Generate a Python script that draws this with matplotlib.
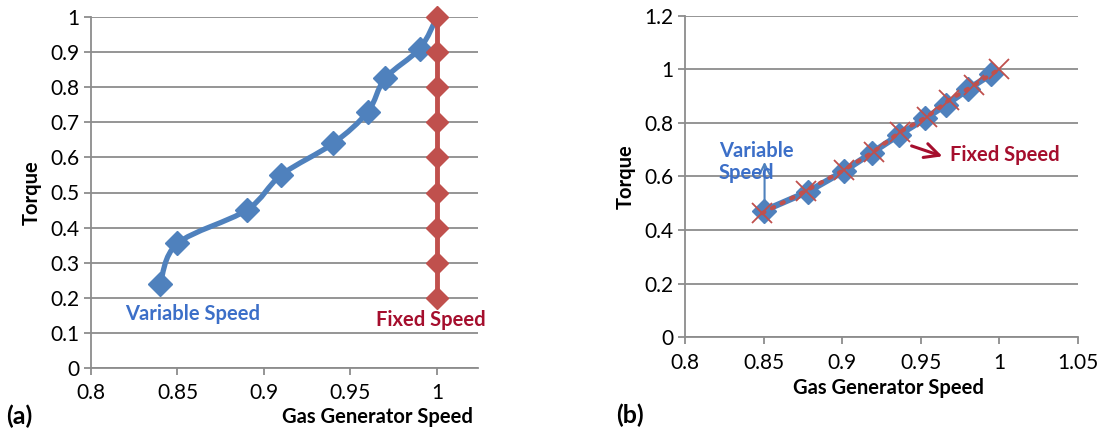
import numpy as np
import matplotlib
matplotlib.use("Agg")
import matplotlib.pyplot as plt
from matplotlib.path import Path
from matplotlib.patches import PathPatch

plt.rcParams['font.family'] = ['Lato', 'DejaVu Sans']

# panel (a)
var_speed_a = [0.84, 0.85, 0.89, 0.91, 0.94, 0.96, 0.97, 0.99, 1.0]
var_torque_a = [0.24, 0.355, 0.45, 0.55, 0.64, 0.73, 0.825, 0.91, 1.0]
fix_speed_a = [1.0] * 9
fix_torque_a = [0.2, 0.3, 0.4, 0.5, 0.6, 0.7, 0.8, 0.9, 1.0]

# panel (b)
var_speed_b = [0.850, 0.878, 0.901, 0.919, 0.936, 0.953, 0.966, 0.980, 0.995]
var_torque_b = [0.472, 0.543, 0.620, 0.689, 0.755, 0.817, 0.867, 0.925, 0.982]
fix_speed_b = [0.849, 0.877, 0.901, 0.920, 0.937, 0.954, 0.968, 0.984, 1.0]
fix_torque_b = [0.463, 0.547, 0.624, 0.693, 0.767, 0.823, 0.885, 0.941, 1.0]

BLUE = '#4F81BD'
RED = '#C0504D'
DARKRED = '#A50E2D'
TXTBLUE = '#3C6FC8'
GRID = '#8C8C8C'

TICK_FS = 15
LABEL_FS = 14.5


def smooth_path(xs, ys, tension=1 / 6):
    # excel-like smoothed line: cubic bezier through every point
    pts = np.column_stack([xs, ys])
    verts = [pts[0]]
    codes = [Path.MOVETO]
    n = len(pts)
    for i in range(n - 1):
        p0 = pts[i - 1] if i > 0 else pts[i]
        p1, p2 = pts[i], pts[i + 1]
        p3 = pts[i + 2] if i + 2 < n else pts[i + 1]
        verts += [p1 + (p2 - p0) * tension, p2 - (p3 - p1) * tension, p2]
        codes += [Path.CURVE4] * 3
    return Path(verts, codes)


def style_axes(ax):
    for s in ['top', 'right']:
        ax.spines[s].set_visible(False)
    for s in ['left', 'bottom']:
        ax.spines[s].set_color(GRID)
        ax.spines[s].set_linewidth(1.3)
    ax.grid(axis='y', color=GRID, linewidth=1.3)
    ax.set_axisbelow(True)
    ax.tick_params(colors=GRID, labelcolor='black', labelsize=TICK_FS, length=5, width=1.3)


fig = plt.figure(figsize=(11.09, 4.33), dpi=100)

# ---- (a)
ax1 = fig.add_axes([91 / 1109, 1 - 368 / 433, (478 - 91) / 1109, (368 - 17) / 433])
style_axes(ax1)
ax1.set_xlim(0.8, 1.0237)
ax1.set_ylim(0, 1)
ax1.set_xticks([0.8, 0.85, 0.9, 0.95, 1.0])
ax1.set_xticklabels(['0.8', '0.85', '0.9', '0.95', '1'])
ax1.set_yticks(np.arange(0, 1.01, 0.1))
ax1.set_yticklabels(['0', '0.1', '0.2', '0.3', '0.4', '0.5', '0.6', '0.7', '0.8', '0.9', '1'])
ax1.tick_params(axis='x', pad=6)
ax1.add_patch(PathPatch(smooth_path(var_speed_a, var_torque_a), fill=False,
                        edgecolor=BLUE, lw=3.8, capstyle='round', joinstyle='round', zorder=3))
ax1.plot(var_speed_a[:-1], var_torque_a[:-1], 'D', color=BLUE, ms=12, zorder=4, clip_on=False)
ax1.plot(fix_speed_a, fix_torque_a, '-D', color=RED, lw=3.5, ms=11, zorder=5, clip_on=False)
ax1.text(0.8195, 0.155, 'Variable Speed', color=TXTBLUE, fontsize=LABEL_FS, fontweight='bold',
         va='center')
ax1.text(0.965, 0.137, 'Fixed Speed', color=DARKRED, fontsize=LABEL_FS, fontweight='bold',
         va='center', clip_on=False)
ax1.set_ylabel('Torque', fontsize=LABEL_FS, fontweight='bold', labelpad=6)
fig.text(377 / 1109, 1 - 417 / 433, 'Gas Generator Speed', fontsize=LABEL_FS, fontweight='bold',
         ha='center', va='center')
fig.text(6 / 1109, 1 - 416 / 433, '(a)', fontsize=18, fontweight='bold', va='center')

# ---- (b)
ax2 = fig.add_axes([685.3 / 1109, 1 - 337.3 / 433, (1077.7 - 685.3) / 1109, (337.3 - 15.7) / 433])
style_axes(ax2)
ax2.set_xlim(0.8, 1.05)
ax2.set_ylim(0, 1.2)
ax2.set_xticks([0.8, 0.85, 0.9, 0.95, 1.0, 1.05])
ax2.set_xticklabels(['0.8', '0.85', '0.9', '0.95', '1', '1.05'])
ax2.set_yticks([0, 0.2, 0.4, 0.6, 0.8, 1.0, 1.2])
ax2.set_yticklabels(['0', '0.2', '0.4', '0.6', '0.8', '1', '1.2'])
ax2.tick_params(axis='x', pad=6)
ax2.plot(var_speed_b, var_torque_b, '-D', color=BLUE, lw=4.5, ms=12, zorder=3)
ax2.plot(fix_speed_b, fix_torque_b, color=RED, lw=3, linestyle=(0, (0.6, 2)),
         dash_capstyle='round', zorder=4)
ax2.plot(fix_speed_b, fix_torque_b, 'x', color=RED, ms=15, mew=1.3, zorder=5)
ax2.annotate('', xy=(0.8505, 0.665), xytext=(0.8505, 0.475),
             arrowprops=dict(arrowstyle='->', color=BLUE, lw=1.5, mutation_scale=18))
ax2.text(0.8215, 0.655, 'Variable\nSpeed', color=TXTBLUE, fontsize=LABEL_FS, fontweight='bold',
         va='center', linespacing=1.15)
ax2.annotate('', xy=(0.9655, 0.672), xytext=(0.9425, 0.7175),
             arrowprops=dict(arrowstyle='->', color=DARKRED, lw=2.2, mutation_scale=26))
ax2.text(0.9685, 0.681, 'Fixed Speed', color=DARKRED, fontsize=LABEL_FS, fontweight='bold',
         va='center')
ax2.set_ylabel('Torque', fontsize=LABEL_FS, fontweight='bold', labelpad=6)
fig.text(888 / 1109, 1 - 388 / 433, 'Gas Generator Speed', fontsize=LABEL_FS, fontweight='bold',
         ha='center', va='center')
fig.text(616 / 1109, 1 - 415 / 433, '(b)', fontsize=18, fontweight='bold', va='center')

fig.savefig('out.png', dpi=100)
